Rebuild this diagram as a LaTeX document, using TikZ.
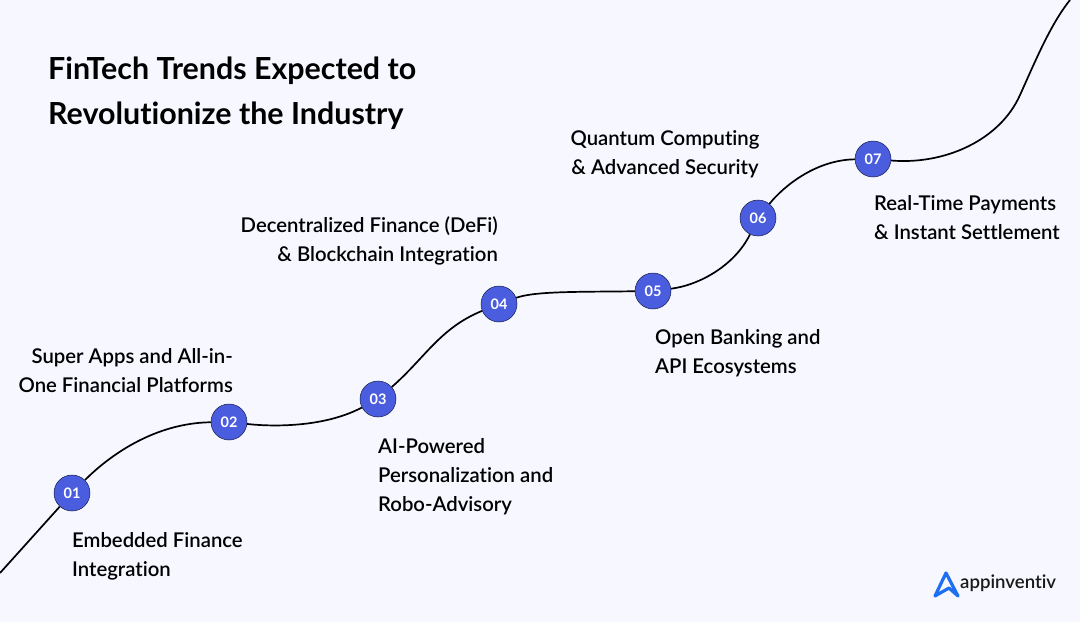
\documentclass[tikz,border=0pt]{standalone}
\usepackage{fontspec}
\setmainfont{Lato}[Ligatures={NoCommon,NoRequired,NoContextual}]
\newfontfamily\medf{Lato Semibold}[Ligatures={NoCommon,NoRequired,NoContextual}]
\definecolor{bgc}{HTML}{F6F7FF}
\definecolor{dotc}{HTML}{4A5DDF}
\definecolor{logoc}{HTML}{1F6FF2}
\begin{document}
\begin{tikzpicture}[x=1pt,y=-1pt,
  stepdot/.style={circle,fill=dotc,draw=black!70!dotc,line width=0.5pt,minimum size=36pt,inner sep=0pt,text=white,font=\fontsize{14.5}{15}\selectfont\bfseries},
  lbl/.style={font=\fontsize{20.3}{29}\selectfont\medf,text=black,inner sep=0pt,align=left},
  lblr/.style={lbl,align=right},
  curve/.style={line width=1.7pt,black}]
\fill[bgc] (0,0) rectangle (1080,622);
\useasboundingbox (0,0) rectangle (1080,622);
\coordinate (s) at (0,573);
\coordinate (m) at (1020,95);
\coordinate (e) at (1070,0);
\node[stepdot] (n1) at (72,493) {01};
\node[stepdot] (n2) at (229,422) {02};
\node[stepdot] (n3) at (378,399) {03};
\node[stepdot] (n4) at (499,304) {04};
\node[stepdot] (n5) at (653,291) {05};
\node[stepdot] (n6) at (758,218) {06};
\node[stepdot] (n7) at (873,159) {07};
\node[lbl,anchor=north west,font=\fontsize{30.4}{44.5}\selectfont\bfseries] (t) at (48,57) {FinTech Trends Expected to\\Revolutionize the Industry};
\node[lbl,anchor=north west] (a) at (72,532) {Embedded Finance\\Integration};
\node[lblr,anchor=north east] (b) at (233,348) {Super Apps and All-in-\\One Financial Platforms};
\node[lbl,anchor=north west] (c) at (378,438) {AI-Powered\\Personalization and\\Robo-Advisory};
\node[lblr,anchor=north east] (d) at (498,216) {Decentralized Finance (DeFi)\\\& Blockchain Integration};
\node[lbl,anchor=north west] (f) at (655,329) {Open Banking and\\API Ecosystems};
\node[lbl,anchor=center,align=center] (g) at (665,154) {Quantum Computing\\\& Advanced Security};
\node[lbl,anchor=north west] (h) at (874,195) {Real-Time Payments\\\& Instant Settlement};
\draw[curve] (s) -- (n1);
\draw[curve] (n1) .. controls (110,455) and (155,423) .. (n2);
\draw[curve] (n2) .. controls (275,427) and (325,427) .. (n3);
\draw[curve] (n3) .. controls (425,358) and (440,328) .. (n4);
\draw[curve] (n4) .. controls (535,291) and (580,292) .. (n5);
\draw[curve] (n5) .. controls (700,285) and (735,265) .. (n6);
\draw[curve] (n6) .. controls (783,187) and (815,160) .. (n7);
\draw[curve] (n7) .. controls (945,165) and (1000,140) .. (m) .. controls (1035,62) and (1050,25) .. (e);
\node[font=\fontsize{18.6}{22}\selectfont\medf,text=black!90,anchor=west,inner sep=0pt] (logo) at (960,583) {appinventiv};
\draw[logoc,line width=3.2pt,line join=round,line cap=round] (935,596) -- (946,573) -- (958,596) -- (949,588) -- cycle;
\end{tikzpicture}
\end{document}
